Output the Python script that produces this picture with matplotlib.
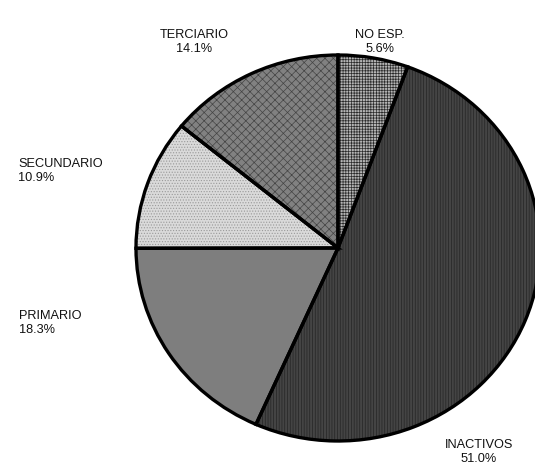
import matplotlib
matplotlib.use("Agg")
import matplotlib.pyplot as plt

plt.rcParams['font.family'] = ['Liberation Sans', 'DejaVu Sans']
plt.rcParams['hatch.linewidth'] = 0.5

# datos (orden horario desde arriba)
sectores = ["NO ESP.", "INACTIVOS", "PRIMARIO", "SECUNDARIO", "TERCIARIO"]
porcentajes = [5.6, 51.0, 18.3, 10.9, 14.1]

fondos = ["#b4b4b4", "#444444", "#7e7e7e", "#dadada", "#818181"]
tramas = ["++++++", "||||||", "", "......", "xxxx"]
color_trama = ["#2a2a2a", "#252525", "#707070", "#9a9a9a", "#444444"]

W, H = 535, 466
fig = plt.figure(figsize=(W / 100, H / 100), dpi=100)
# centro (338,248), radio x 202 px, radio y 193 px
cx, cy, rx, ry = 338, 248, 202, 193
ax = fig.add_axes([(cx - rx) / W, (H - cy - ry) / H, 2 * rx / W, 2 * ry / H])

cunas, _ = ax.pie(porcentajes, startangle=90, counterclock=False,
                  wedgeprops=dict(linewidth=0))
for c, f, t, hc in zip(cunas, fondos, tramas, color_trama):
    c.set_facecolor(f)
    c.set_edgecolor(hc)
    c.set_linewidth(0)
    if t:
        c.set_hatch(t)

# bordes negros
bordes, _ = ax.pie(porcentajes, startangle=90, counterclock=False,
                   wedgeprops=dict(fill=False, edgecolor="black", linewidth=2.4))

ax.set_aspect('auto')
ax.set_xlim(-1, 1)
ax.set_ylim(-1, 1)

# etiquetas (posiciones en pixeles)
etiquetas = {
    "NO ESP.": (380, 42, 'center'),
    "INACTIVOS": (479, 452, 'center'),
    "PRIMARIO": (19, 323, 'left'),
    "SECUNDARIO": (18, 171, 'left'),
    "TERCIARIO": (194, 42, 'center'),
}
for s, p in zip(sectores, porcentajes):
    x, y, ha = etiquetas[s]
    fig.text(x / W, 1 - y / H, "%s\n%.1f%%" % (s, p), ha=ha, va='center',
             multialignment=ha, fontsize=9.2, linespacing=1.15, color="#111111")

fig.savefig("out.png", dpi=100)
